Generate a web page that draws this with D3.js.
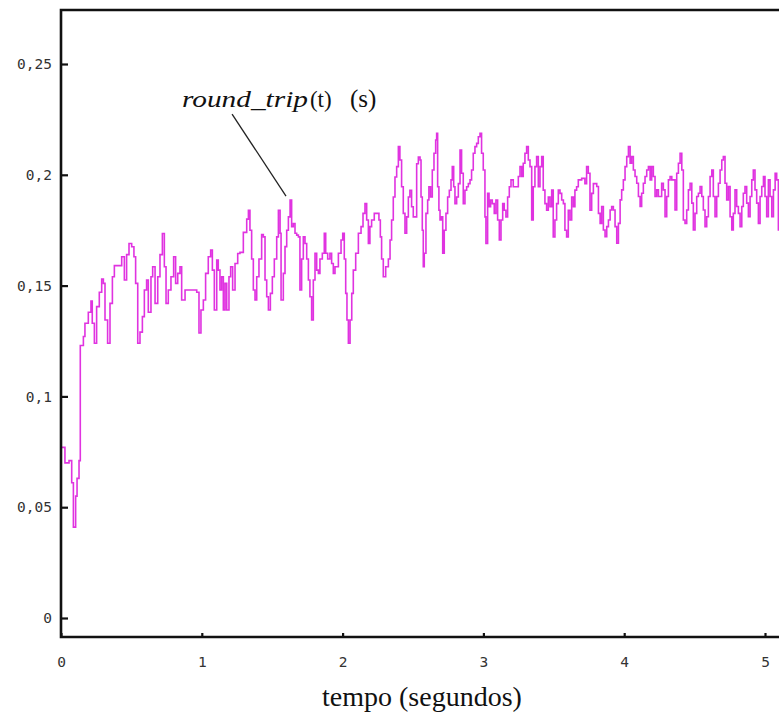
<!DOCTYPE html>
<html><head><meta charset="utf-8">
<script src="https://cdn.jsdelivr.net/npm/d3@7"></script>
<style>body{margin:0;background:#fff} svg{display:block}</style>
</head><body>
<svg id="chart" width="779" height="715"></svg>
<script>
// ---- data ----
const tempo = [
0,0.028,0.057,0.076,0.088,0.104,0.114,0.128,0.137,0.159,0.170,0.194,0.213,0.222,0.237,0.253,0.272,0.289,0.301,0.3125,
0.331,0.348,0.365,0.379,0.407,0.431,0.450,0.466,0.483,0.502,0.518,0.530,0.545,0.561,0.578,0.592,0.608,0.620,0.639,0.651,
0.668,0.687,0.703,0.720,0.734,0.746,0.762,0.781,0.800,0.814,0.829,0.845,0.857,0.881,0.928,0.964,0.980,0.994,1.011,1.027,
1.046,1.063,1.075,1.089,1.106,1.117,1.129,1.141,1.153,1.165,1.177,1.193,1.205,1.219,1.236,1.255,
1.271,1.295,1.319,1.331,1.342,1.354,1.366,1.378,1.390,1.406,1.425,1.437,1.449,1.461,1.473,1.487,1.501,1.515,1.532,1.544,
1.556,1.563,1.579,1.591,1.603,1.615,1.627,1.638,1.650,1.662,1.674,1.686,1.697,1.709,1.721,1.733,1.745,1.757,1.768,1.780,
1.792,1.804,1.816,1.828,1.839,1.856,1.870,1.880,1.894,1.910,1.922,1.934,1.946,1.970,1.989,2.001,2.012,2.022,2.031,2.041,
2.053,2.065,2.076,2.093,2.112,2.131,2.145,2.159,2.171,2.183,2.194,2.206,2.225,2.242,2.258,2.268,2.277,2.289,2.306,2.325,
2.337,2.348,2.360,2.372,2.384,2.396,2.407,2.419,2.431,2.443,2.455,2.467,2.478,2.490,2.502,
2.526,2.538,2.550,2.557,2.566,2.573,2.580,2.592,2.604,2.613,2.625,2.637,2.649,2.661,2.668,2.675,2.684,2.692,2.703,2.711,
2.722,2.734,2.746,2.758,2.770,2.779,2.789,2.798,2.810,2.822,2.834,2.845,2.857,2.869,2.881,2.893,2.905,2.916,2.928,2.940,
2.952,2.964,2.976,2.987,2.999,3.011,3.018,3.030,3.040,3.051,3.063,3.077,3.089,3.101,3.113,3.125,3.137,3.148,3.160,3.172,
3.184,3.196,3.212,3.224,3.236,3.248,3.260,3.272,3.283,3.295,3.307,3.319,3.331,3.343,3.354,3.366,3.378,3.390,3.402,3.414,
3.425,3.437,3.449,3.461,3.473,3.485,3.496,3.508,3.520,3.532,3.544,3.556,3.568,3.579,3.591,3.603,3.615,3.627,3.639,3.650,
3.662,3.674,3.686,3.698,3.710,3.721,3.733,3.745,3.757,3.769,3.781,
3.805,3.817,3.829,3.840,3.852,3.864,3.876,3.888,3.900,3.911,3.923,3.935,3.947,3.959,3.971,3.982,3.994,4.006,4.018,4.030,
4.042,4.053,4.065,4.077,4.089,4.101,4.113,4.124,4.136,4.148,4.160,4.172,4.184,4.195,4.207,4.219,4.231,4.243,4.255,4.266,
4.278,4.290,4.302,4.314,4.326,4.338,4.349,4.361,4.373,4.385,4.397,4.409,4.420,4.432,4.444,4.456,4.468,4.480,4.491,4.503,
4.515,4.527,4.539,4.551,4.562,4.574,4.586,4.598,4.610,4.622,4.633,4.645,4.657,4.669,4.681,4.693,4.704,4.716,4.728,4.740,
4.752,4.764,4.775,4.787,4.799,4.811,4.823,4.835,4.846,4.858,4.870,4.882,4.894,4.906,4.917,4.929,4.941,4.953,4.965,4.977,
4.989,5.000,5.012,5.024,5.036,5.048,5.060,5.072,5.083,5.095,5.11
];
const roundTrip = [
0.077,0.070,0.071,0.061,0.041,0.055,0.063,0.071,0.123,0.127,0.133,0.138,0.143,0.133,0.124,0.1405,0.147,0.153,0.151,0.1345,
0.124,0.142,0.154,0.159,0.159,0.163,0.1525,0.164,0.169,0.1675,0.163,0.151,0.124,0.129,0.136,0.148,0.1525,0.138,0.154,0.1585,
0.142,0.154,0.164,0.1735,0.1585,0.142,0.148,0.154,0.163,0.151,0.1555,0.1585,0.1435,0.148,0.148,0.147,0.1286,0.139,0.1435,0.1555,
0.163,0.166,0.157,0.139,0.1615,0.157,0.148,0.154,0.139,0.151,0.139,0.154,0.1585,0.148,0.160,0.1645,
0.165,0.174,0.180,0.184,0.175,0.162,0.148,0.1435,0.154,0.162,0.173,0.172,0.1525,0.145,0.139,0.1465,0.154,0.162,0.172,0.184,
0.1736,0.1435,0.1555,0.1676,0.175,0.181,0.1886,0.1766,0.178,0.1736,0.1728,0.172,0.148,0.162,0.172,0.169,0.162,0.1525,0.145,0.1345,
0.1525,0.1646,0.157,0.1555,0.162,0.1646,0.1736,0.1646,0.162,0.1646,0.160,0.1555,0.1585,0.1646,0.1706,0.1736,0.162,0.1465,0.1345,0.124,
0.1345,0.1465,0.157,0.1646,0.1736,0.1766,0.1826,0.187,0.1796,0.169,0.1766,0.1796,0.1826,0.1826,0.1796,0.172,0.162,0.154,0.1585,0.162,
0.1706,0.1796,0.190,0.199,0.2037,0.2127,0.2067,0.1946,0.1826,0.1736,0.181,0.190,0.193,0.1856,0.181,
0.205,0.208,0.2067,0.190,0.175,0.1585,0.1646,0.1826,0.1886,0.1946,0.190,0.2022,0.2097,0.2157,0.2187,0.1946,0.184,0.1796,0.181,0.1646,
0.175,0.1826,0.190,0.193,0.1977,0.2037,0.1946,0.187,0.190,0.196,0.2112,0.2007,0.187,0.193,0.1946,0.196,0.1977,0.2022,0.2097,0.2127,
0.2142,0.2172,0.2187,0.2097,0.2022,0.181,0.169,0.1916,0.1856,0.1886,0.187,0.1826,0.1886,0.1796,0.1706,0.1796,0.187,0.184,0.181,0.190,
0.1946,0.1977,0.1946,0.1946,0.1946,0.1992,0.2037,0.1992,0.2052,0.2097,0.2127,0.2067,0.2037,0.1796,0.1946,0.2037,0.2082,0.1946,0.2037,0.2082,
0.1931,0.187,0.184,0.190,0.1856,0.1931,0.172,0.1796,0.187,0.1931,0.1916,0.1886,0.187,0.175,0.172,0.184,0.1796,0.190,0.1856,0.1931,
0.1946,0.1977,0.1977,0.1984,0.1984,0.196,0.2037,0.2007,0.184,0.1916,0.196,
0.1947,0.1826,0.1781,0.1857,0.1751,0.1721,0.1766,0.1796,0.1841,0.1857,0.1841,0.1766,0.1691,0.1781,0.1887,0.1932,0.1977,0.2037,0.2082,0.2127,
0.2052,0.2082,0.2022,0.1992,0.1962,0.1902,0.1857,0.1917,0.1962,0.1992,0.2022,0.2037,0.1977,0.2037,0.1992,0.1902,0.1932,0.1902,0.1902,0.1962,
0.1932,0.1811,0.1902,0.1977,0.1992,0.1977,0.1977,0.1841,0.2007,0.2052,0.2097,0.2022,0.1796,0.1781,0.1841,0.1932,0.1962,0.1872,0.1751,0.1826,
0.1902,0.1917,0.1947,0.1902,0.1841,0.1766,0.1811,0.1902,0.1992,0.2022,0.1902,0.1811,0.1902,0.1962,0.2022,0.2067,0.2082,0.1962,0.1887,0.1947,
0.1811,0.1751,0.1826,0.1932,0.1857,0.1826,0.1766,0.1857,0.1917,0.1947,0.1872,0.1811,0.1902,0.1977,0.2022,0.1932,0.1872,0.1781,0.1902,0.1947,
0.1992,0.1902,0.1811,0.1977,0.1902,0.1811,0.1932,0.2007,0.1977,0.1751,0.176
];
const xTicks = [0, 1, 2, 3, 4, 5];
const xTickLabels = ["0", "1", "2", "3", "4", "5"];
const yTicks = [0, 0.05, 0.1, 0.15, 0.2, 0.25];
const yTickLabels = ["0", "0,05", "0,1", "0,15", "0,2", "0,25"];
const xTitle = "tempo (segundos)";
const seriesLabelItalic = "round_trip";
const seriesLabelArg = "(t)";
const seriesLabelUnit = "(s)";
// annotation anchor points (data coordinates)
const labelAt = [0.859, 0.2306];
const leaderFrom = [1.215, 0.2274];
const leaderTo = [1.598, 0.1904];

(function () {
  const plotLeft = 61, plotTop = 10, plotBottom = 637, plotRight = 779;
  const svg = d3.select("#chart");

  const x = d3.scaleLinear().domain([0, 5.1]).range([61, 61 + 140.8 * 5.1]);
  const y = d3.scaleLinear().domain([0, 0.25]).range([618, 64]);

  const data = tempo.map((t, i) => ({t, v: roundTrip[i]}));

  svg.append("defs").append("clipPath").attr("id", "clip")
    .append("rect").attr("x", plotLeft).attr("y", plotTop)
    .attr("width", plotRight - plotLeft).attr("height", plotBottom - plotTop);

  // series line
  const line = d3.line().x(d => x(d.t)).y(d => y(d.v)).curve(d3.curveStepAfter);
  svg.append("path").datum(data)
    .attr("clip-path", "url(#clip)")
    .attr("d", line)
    .attr("fill", "none")
    .attr("stroke", "#e033e0")
    .attr("stroke-width", 1.6)
    .attr("stroke-linejoin", "miter");

  // axes
  const tickFont = "'DejaVu Sans Mono', monospace";
  const gx = svg.append("g").attr("transform", `translate(0,${plotBottom})`)
    .call(d3.axisBottom(x).tickValues(xTicks).tickFormat((d, i) => xTickLabels[i])
      .tickSizeInner(-4).tickSizeOuter(0).tickPadding(20));
  const gy = svg.append("g").attr("transform", `translate(${plotLeft},0)`)
    .call(d3.axisLeft(y).tickValues(yTicks).tickFormat((d, i) => yTickLabels[i])
      .tickSizeInner(-7).tickSizeOuter(0).tickPadding(9));
  [gx, gy].forEach(g => {
    g.select(".domain").remove();
    g.selectAll(".tick line").attr("stroke", "#111").attr("stroke-width", 2.2);
    g.selectAll(".tick text").attr("font-family", tickFont).attr("font-size", 14.5).attr("fill", "#333");
  });

  // frame lines
  svg.append("path")
    .attr("d", `M${plotRight + 2},${plotTop} H${plotLeft} V${plotBottom} H${plotRight + 2}`)
    .attr("stroke", "#111").attr("stroke-width", 2.6).attr("fill", "none")
    .attr("stroke-linejoin", "miter");

  // x-axis title
  svg.append("text")
    .attr("x", 422).attr("y", 706)
    .attr("text-anchor", "middle")
    .attr("font-family", "'Liberation Serif', 'Times New Roman', serif")
    .attr("font-size", 28)
    .attr("fill", "#111")
    .text(xTitle);

  // series annotation
  const lx = x(labelAt[0]);
  const lab = svg.append("text")
    .attr("x", lx).attr("y", y(labelAt[1]))
    .attr("font-family", "'Liberation Serif', 'Times New Roman', serif")
    .attr("font-size", 23)
    .attr("fill", "#111");
  lab.append("tspan").attr("font-style", "italic").attr("textLength", 126).attr("lengthAdjust", "spacingAndGlyphs")
    .text(seriesLabelItalic);
  lab.append("tspan").attr("x", lx + 128).text(seriesLabelArg);
  lab.append("tspan").attr("x", lx + 168).attr("font-size", 25).text(seriesLabelUnit);

  svg.append("line")
    .attr("x1", x(leaderFrom[0])).attr("y1", y(leaderFrom[1]))
    .attr("x2", x(leaderTo[0])).attr("y2", y(leaderTo[1]))
    .attr("stroke", "#222").attr("stroke-width", 1.3);
})();
</script>
</body></html>
